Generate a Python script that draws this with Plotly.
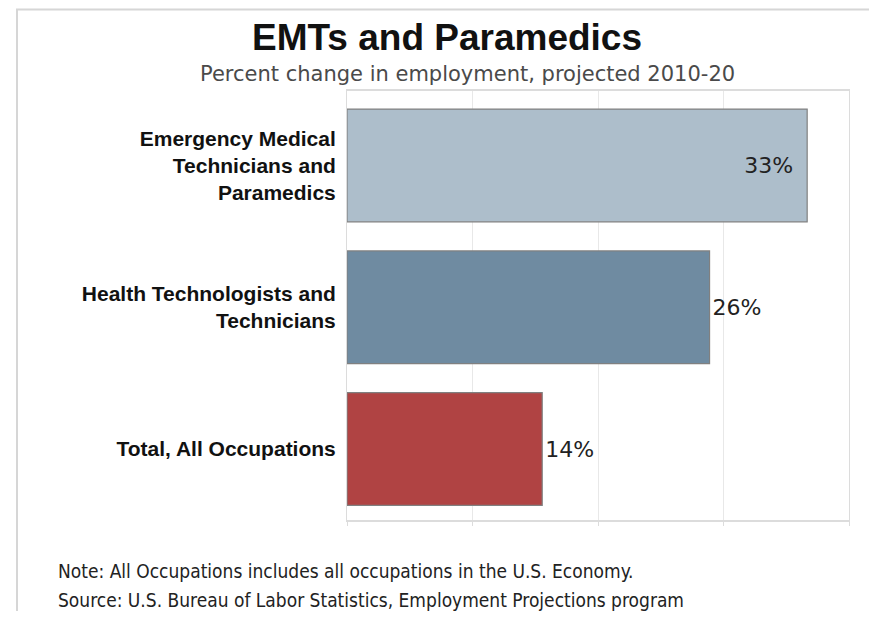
import plotly.graph_objects as go

categories = ["Emergency Medical<br>Technicians and<br>Paramedics",
              "Health Technologists and<br>Technicians",
              "Total, All Occupations"]
values = [33, 26, 14]
labels = ["33%", "26%", "14%"]
colors = ["#adbecb", "#6f8ba1", "#b04343"]
text_positions = ["inside", "outside", "outside"]
text_templates = ["%{text}\u2002", "%{text}", "%{text}"]

# page body adds an 8px margin on all sides; size figure so no scrollbars appear
W, H = 861, 603
L, T, R, B = 339, 83, 20, 91
PW, PH = W - L - R, H - T - B   # 502 x 429
X0, Y0 = L + 8, T + 8            # page coords of plot top-left (347, 91)
YB = Y0 + PH                     # 520


def px_x(x):
    return (x - X0) / PW


def px_y(y):
    return (YB - y) / PH


fig = go.Figure()
fig.add_trace(go.Bar(
    y=categories, x=values, orientation="h",
    marker=dict(color=colors, line=dict(color="#808080", width=1.2)),
    text=labels, texttemplate=text_templates, textposition=text_positions,
    insidetextanchor="end", constraintext="none",
    textfont=dict(family="DejaVu Sans", size=22, color="#222222"),
    cliponaxis=False, width=0.795,
))

fig.update_layout(
    width=W, height=H,
    margin=dict(l=L, r=R, t=T, b=B),
    plot_bgcolor="white", paper_bgcolor="white",
    showlegend=False,
)
fig.update_xaxes(range=[0, 36], dtick=9, showticklabels=False,
                 showgrid=True, gridcolor="#e8e8e8", gridwidth=1,
                 zeroline=False, showline=True, linecolor="#dcdcdc", linewidth=2,
                 mirror=True, ticks="outside", ticklen=4, tickcolor="#dcdcdc", fixedrange=True)
fig.update_yaxes(range=[2.5, -0.525], showgrid=False, zeroline=False,
                 showline=True, linecolor="#dcdcdc", linewidth=1, mirror=True,
                 ticks="", ticklabelstandoff=6,
                 tickfont=dict(family="Liberation Sans", size=21, color="#111111", weight="bold"))

# outer frame: top and left edges only
fig.add_shape(type="line", xref="paper", yref="paper",
              x0=px_x(16), x1=px_x(880), y0=px_y(9.5), y1=px_y(9.5),
              line=dict(color="#d6d6d6", width=2), layer="below")
fig.add_shape(type="line", xref="paper", yref="paper",
              x0=px_x(17), x1=px_x(17), y0=px_y(640), y1=px_y(9.5),
              line=dict(color="#d6d6d6", width=2), layer="below")

fig.add_annotation(text="<b>EMTs and Paramedics</b>", xref="paper", yref="paper",
                   x=px_x(447), y=px_y(37), xanchor="center", yanchor="middle",
                   showarrow=False, font=dict(family="Liberation Sans", size=37, color="#111111"))
fig.add_annotation(text="Percent change in employment, projected 2010-20", xref="paper", yref="paper",
                   x=px_x(467), y=px_y(74), xanchor="center", yanchor="middle",
                   showarrow=False, font=dict(family="DejaVu Sans", size=21, color="#4a4a4a"))
fig.add_annotation(text="Note: All Occupations includes all occupations in the U.S. Economy.",
                   xref="paper", yref="paper", x=px_x(56), y=px_y(571),
                   xanchor="left", yanchor="middle", showarrow=False,
                   font=dict(family="DejaVu Sans Condensed", size=19, color="#222222"))
fig.add_annotation(text="Source: U.S. Bureau of Labor Statistics, Employment Projections program",
                   xref="paper", yref="paper", x=px_x(56), y=px_y(600),
                   xanchor="left", yanchor="middle", showarrow=False,
                   font=dict(family="DejaVu Sans Condensed", size=19, color="#222222"))

fig.write_html("out.html")
